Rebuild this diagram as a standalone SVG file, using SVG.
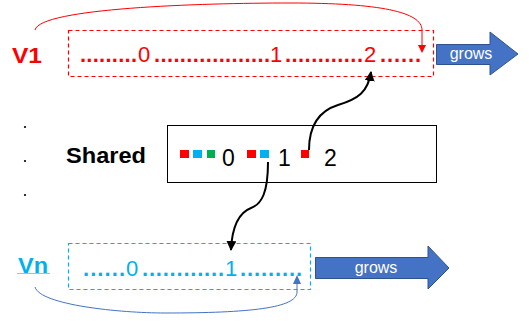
<svg xmlns="http://www.w3.org/2000/svg" width="529" height="321" viewBox="0 0 529 321">
<defs>
<style>
.lbl{font-family:"Liberation Sans",Arial,sans-serif;font-weight:bold;font-size:22px}
.num{font-family:"Liberation Sans",Arial,sans-serif;font-size:22px}
.dt{font-weight:bold}
.grow{font-family:"Liberation Sans",Arial,sans-serif;font-size:16px;fill:#fff;text-anchor:middle}
.red{fill:#FF0000}
.blue{fill:#00B0F0}
.green{fill:#00B050}
.dash{fill:none;stroke-width:1.2;stroke-dasharray:4 3}
.big{fill:#4472C4;stroke:#2F528F;stroke-width:1}
.conn{fill:none;stroke:#000;stroke-width:2}
</style>
<marker id="ah" viewBox="0 0 10 10" refX="9" refY="5" markerWidth="5" markerHeight="5" orient="auto" markerUnits="strokeWidth"><path d="M0,0 L10,5 L0,10 z" fill="#000"/></marker>
</defs>
<rect width="529" height="321" fill="#fff"/>

<g id="v1">
<text class="lbl red" x="12" y="63" textLength="30" lengthAdjust="spacingAndGlyphs">V1</text>
<rect class="dash" x="68.5" y="30.5" width="365" height="46" stroke="#FF0000"/>
<g class="num red">
<text class="dt" x="80" y="62" textLength="57" lengthAdjust="spacing">.........</text>
<text x="138" y="62">0</text>
<text class="dt" x="154" y="62" textLength="116" lengthAdjust="spacing">..................</text>
<text x="270" y="62">1</text>
<text class="dt" x="285" y="62" textLength="78" lengthAdjust="spacing">............</text>
<text x="364" y="62">2</text>
<text class="dt" x="380" y="62" textLength="41" lengthAdjust="spacing">......</text>
</g>
</g>

<g id="grows1">
<path class="big" d="M436.5,44.5 H490 V32 L518,54 L490,75 V64.5 H436.5 Z"/>
<text class="grow" x="471" y="59">grows</text>
</g>

<g id="dots">
<circle cx="25" cy="127" r="1.1" fill="#000"/>
<circle cx="25" cy="161" r="1.1" fill="#000"/>
<circle cx="25" cy="195" r="1.1" fill="#000"/>
</g>

<g id="shared">
<text class="lbl" x="66" y="163" fill="#000" font-size="23" textLength="80" lengthAdjust="spacingAndGlyphs">Shared</text>
<rect x="167.5" y="125.5" width="269" height="57" fill="none" stroke="#000" stroke-width="1"/>
<rect class="red" x="180" y="150" width="9" height="8"/>
<rect class="blue" x="193" y="150" width="9" height="8"/>
<rect class="green" x="207" y="150" width="8" height="8"/>
<text x="222" y="166" font-family="Liberation Sans,Arial,sans-serif" font-size="23">0</text>
<rect class="red" x="247" y="150" width="9" height="8"/>
<rect class="blue" x="260" y="150" width="9" height="8"/>
<text x="278" y="166" font-family="Liberation Sans,Arial,sans-serif" font-size="23">1</text>
<rect class="red" x="301" y="150" width="8" height="8"/>
<text x="324" y="166" font-family="Liberation Sans,Arial,sans-serif" font-size="23">2</text>
</g>

<g id="vn">
<text class="lbl blue" x="18" y="273" textLength="30" lengthAdjust="spacingAndGlyphs">Vn</text>
<line x1="17" y1="273.5" x2="50" y2="273.5" stroke="#F4A0A0" stroke-width="1"/>
<rect class="dash" x="68.5" y="243.5" width="242" height="46" stroke="#00B0F0"/>
<g class="num blue">
<text class="dt" x="83" y="276" textLength="42" lengthAdjust="spacing">......</text>
<text x="126" y="276">0</text>
<text class="dt" x="142" y="276" textLength="82" lengthAdjust="spacing">............</text>
<text x="225" y="276">1</text>
<text class="dt" x="240" y="276" textLength="62" lengthAdjust="spacing">.........</text>
</g>
</g>

<g id="grows2">
<path class="big" d="M315.5,257.5 H428 V246 L449,268 L428,289 V278.5 H315.5 Z"/>
<text class="grow" x="376" y="273">grows</text>
</g>

<g id="connectors">
<path d="M35,30 C40,8 200,3 290,3 C380,3 422,12 422,30 V46" fill="none" stroke="#FF0000" stroke-width="1"/>
<path d="M418,45 L426,45 L422,53 Z" fill="#FF0000"/>
<path d="M35,287 C40,305 120,313 165,313 C250,313 297,308 297,292 V283" fill="none" stroke="#4472C4" stroke-width="1"/>
<path d="M293,284 L301,284 L297,275 Z" fill="#4472C4"/>
<path class="conn" d="M309,150 C309,122 322,110 338,105 C358,99 368,92 371,72" marker-end="url(#ah)"/>
<path class="conn" d="M268,162 C268,192 262,204 251,208 C238,213 232,228 231,250" marker-end="url(#ah)"/>
</g>
</svg>
